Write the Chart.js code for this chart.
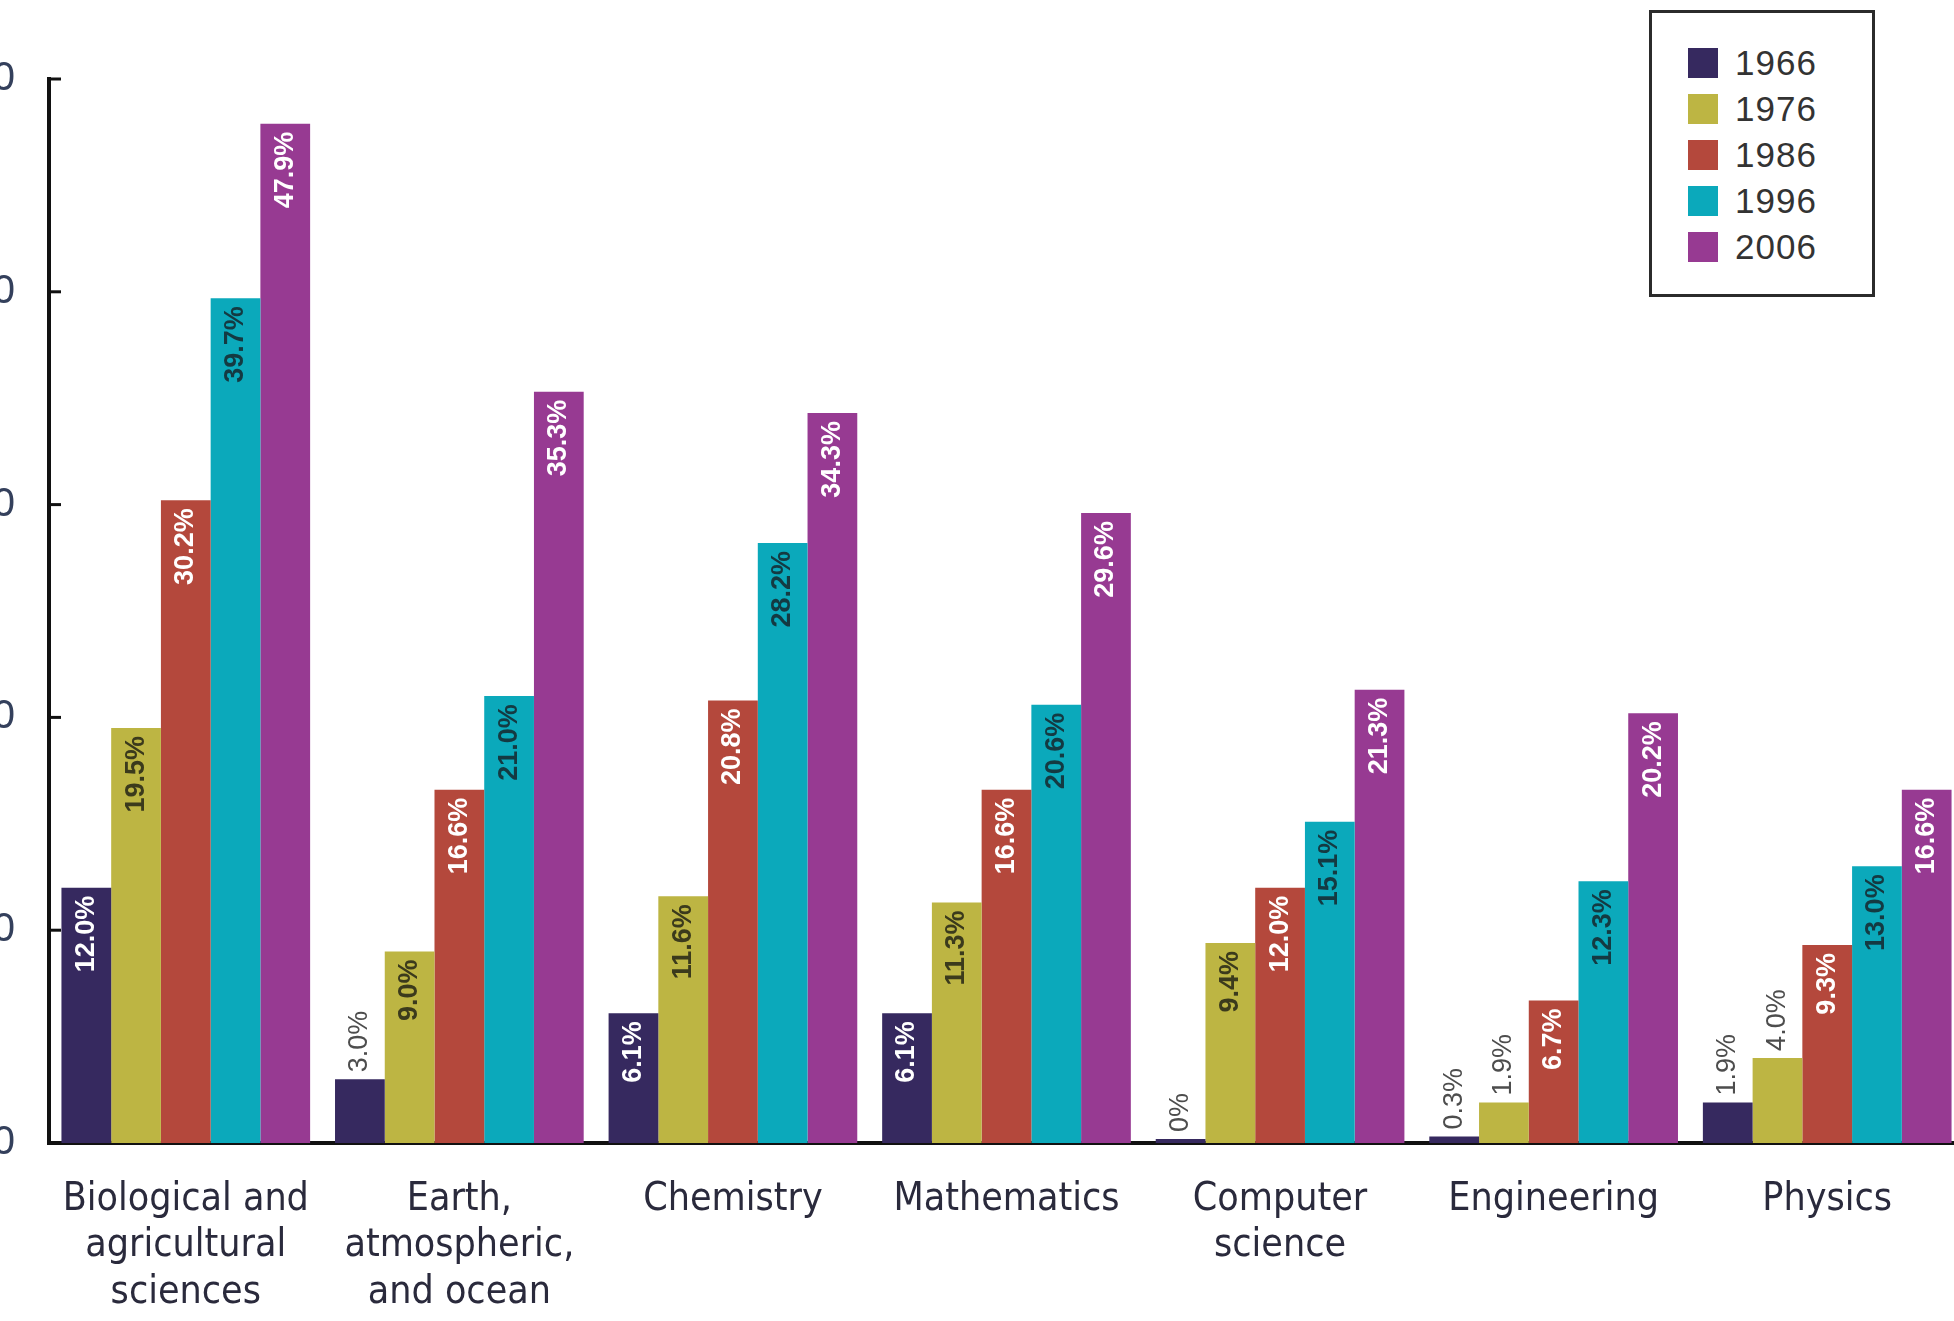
<!DOCTYPE html>
<html lang="en">
<head>
  <meta charset="UTF-8" />
  <title>Share of doctorates by field, 1966-2006</title>
  <script src="https://cdn.jsdelivr.net/npm/chart.js"></script>
  <style>
    html, body { margin: 0; padding: 0; background: #fff; overflow: hidden; width: 1954px; height: 1321px; }
    #wrap { position: absolute; left: -51px; top: 0; width: 2030px; height: 1321px; }
    #legend {
      position: absolute; left: 1649px; top: 10px; width: 226px; height: 287px;
      box-sizing: border-box; border: 3px solid #2b2b2b; background: #fff;
      padding: 27px 0 0 36px;
      font-family: 'Liberation Sans', Arial, sans-serif; font-size: 35px; color: #333;
      letter-spacing: 1px;
    }
    #legend .row { height: 46px; display: flex; align-items: center; }
    #legend .box { width: 30px; height: 30px; margin-right: 17px; }
  </style>
</head>
<body>
  <div id="wrap"><canvas id="chart"></canvas></div>
  <div id="legend"></div>

  <script>
    const fields = [
      ['Biological and', 'agricultural', 'sciences'],
      ['Earth,', 'atmospheric,', 'and ocean'],
      'Chemistry',
      'Mathematics',
      ['Computer', 'science'],
      'Engineering',
      'Physics'
    ];
    const years = ['1966', '1976', '1986', '1996', '2006'];
    const v1966 = [12.0, 3.0, 6.1, 6.1, 0, 0.3, 1.9];
    const v1976 = [19.5, 9.0, 11.6, 11.3, 9.4, 1.9, 4.0];
    const v1986 = [30.2, 16.6, 20.8, 16.6, 12.0, 6.7, 9.3];
    const v1996 = [39.7, 21.0, 28.2, 20.6, 15.1, 12.3, 13.0];
    const v2006 = [47.9, 35.3, 34.3, 29.6, 21.3, 20.2, 16.6];
    const yTicks = [0, 10, 20, 30, 40, 50];

    const colors = ['#36295f', '#bdb543', '#b4483c', '#0ba9bb', '#973a92'];
    const labelInside = ['#ffffff', '#3b3a1c', '#ffffff', '#143a42', '#ffffff'];
    const series = [v1966, v1976, v1986, v1996, v2006];

    // legend box (top right, framed)
    const legend = document.getElementById('legend');
    years.forEach((y, i) => {
      const row = document.createElement('div');
      row.className = 'row';
      row.innerHTML = '<div class="box" style="background:' + colors[i] + '"></div><span>' + y + '</span>';
      legend.appendChild(row);
    });

    function fmt(v) {
      return v === 0 ? '0%' : v.toFixed(1) + '%';
    }

    // short tick marks pointing into the plot
    const insideTicks = {
      id: 'insideTicks',
      beforeDatasetsDraw(chart) {
        const ctx = chart.ctx, sc = chart.scales.y, left = chart.chartArea.left;
        ctx.save();
        ctx.strokeStyle = '#111';
        ctx.lineWidth = 3;
        sc.ticks.forEach((t, i) => {
          const py = sc.getPixelForTick(i);
          ctx.beginPath();
          ctx.moveTo(left, py);
          ctx.lineTo(left + 12, py);
          ctx.stroke();
        });
        ctx.restore();
      }
    };

    // rotated value labels
    const barLabels = {
      id: 'barLabels',
      afterDatasetsDraw(chart) {
        const ctx = chart.ctx;
        chart.data.datasets.forEach((ds, di) => {
          const meta = chart.getDatasetMeta(di);
          meta.data.forEach((bar, i) => {
            const v = ds.data[i];
            const inside = v >= 5;
            ctx.save();
            ctx.textBaseline = 'middle';
            if (inside) {
              ctx.font = 'bold 27px "Liberation Sans", Arial, sans-serif';
              ctx.fillStyle = labelInside[di];
              ctx.translate(bar.x, bar.y + 8);
              ctx.rotate(-Math.PI / 2);
              ctx.textAlign = 'right';
            } else {
              ctx.font = '27px "Liberation Sans", Arial, sans-serif';
              ctx.fillStyle = '#4d4d4d';
              ctx.translate(bar.x, bar.y - 7);
              ctx.rotate(-Math.PI / 2);
              ctx.textAlign = 'left';
            }
            ctx.fillText(fmt(v), 0, 0);
            ctx.restore();
          });
        });
      }
    };

    new Chart(document.getElementById('chart'), {
      type: 'bar',
      data: {
        labels: fields,
        datasets: years.map((y, i) => ({
          label: y,
          data: series[i],
          backgroundColor: colors[i],
          borderWidth: 0,
          minBarLength: i === 0 ? 4 : 0,
          barPercentage: 1.0,
          categoryPercentage: 0.909
        }))
      },
      options: {
        responsive: true,
        maintainAspectRatio: false,
        animation: false,
        layout: { padding: { top: 79, right: 15, left: 0, bottom: 0 } },
        plugins: {
          legend: { display: false },
          tooltip: { enabled: false }
        },
        scales: {
          x: {
            grid: { display: false, drawTicks: false },
            border: { display: true, color: '#111', width: 4 },
            ticks: {
              padding: 33,
              maxRotation: 0,
              autoSkip: false,
              color: '#2a2a3c',
              font: { family: "'Liberation Sans Narrow', 'DejaVu Sans Condensed', sans-serif", size: 39, lineHeight: 1.2 }
            },
            afterFit(scale) { scale.height = 178; }
          },
          y: {
            min: 0,
            max: 50,
            afterBuildTicks(scale) { scale.ticks = yTicks.map(v => ({ value: v })); },
            grid: { display: false, drawTicks: false },
            border: { display: true, color: '#111', width: 4 },
            ticks: {
              padding: 34,
              color: '#34405c',
              font: { family: "'Liberation Sans', Arial, sans-serif", size: 40 }
            },
            afterFit(scale) { scale.width = 100; }
          }
        }
      },
      plugins: [insideTicks, barLabels]
    });
  </script>
</body>
</html>
